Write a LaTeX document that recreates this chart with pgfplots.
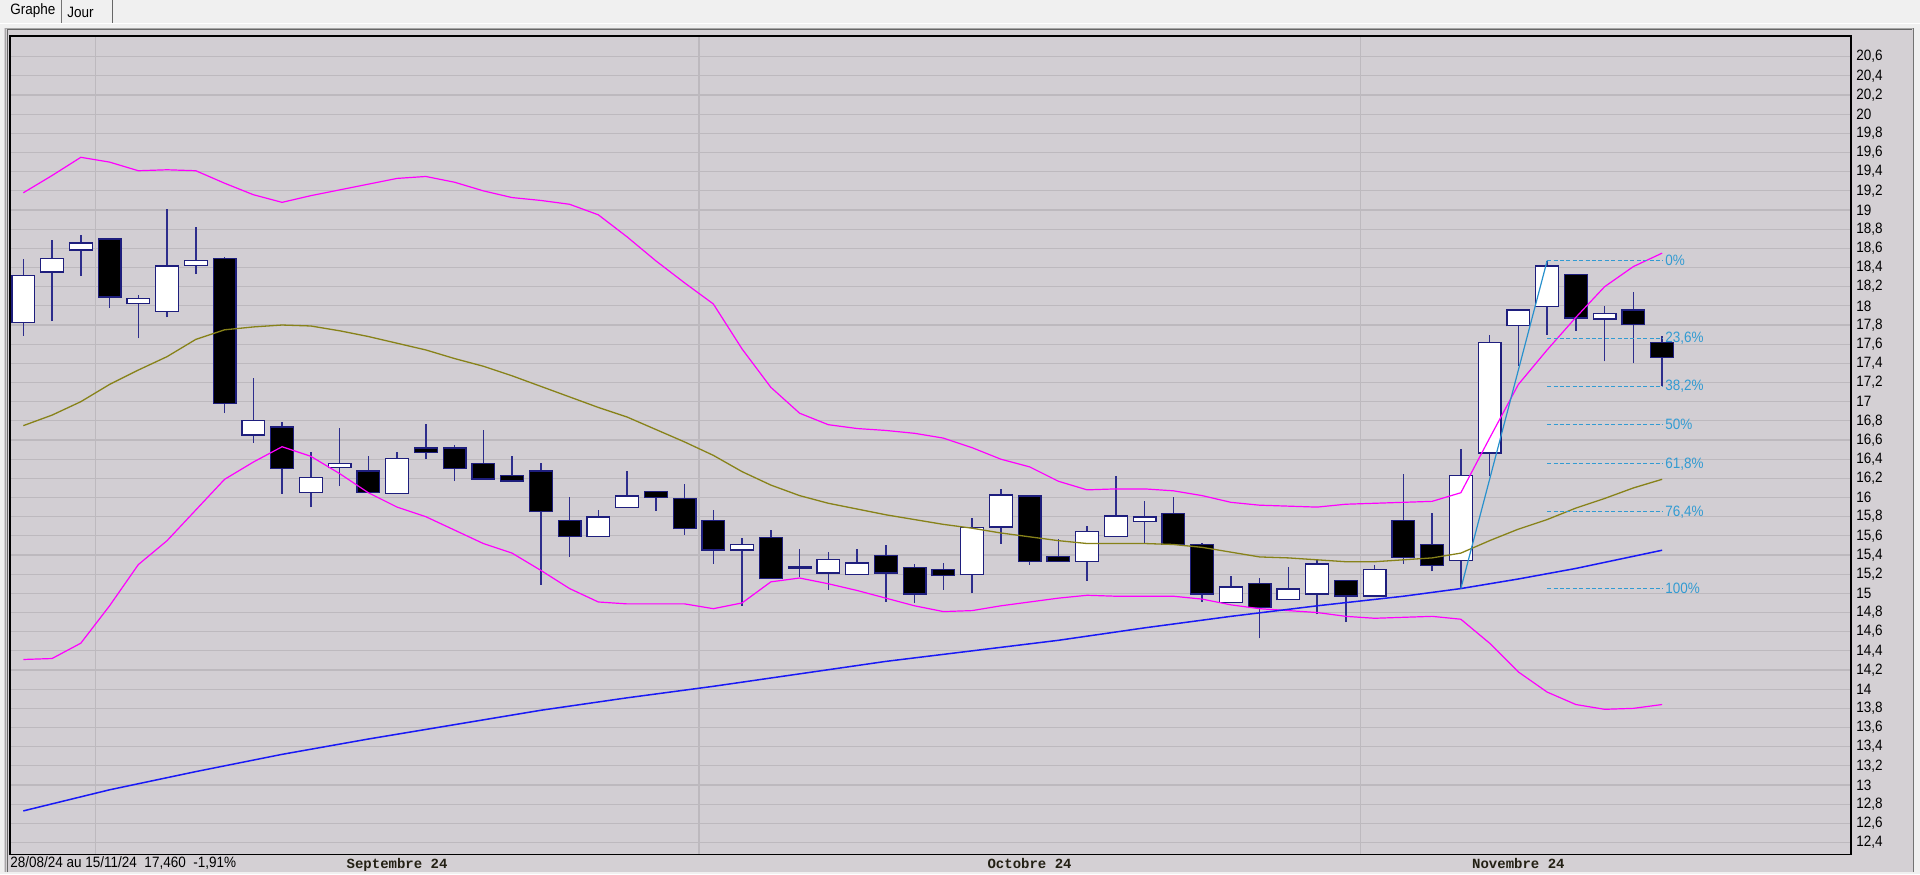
\documentclass[border=0pt]{standalone}
\usepackage{fontspec}
\setmainfont{Liberation Sans}
\newfontfamily\uifont[FakeStretch=0.9]{Liberation Sans}
\newfontfamily\monofont{Liberation Mono}
\usepackage{pgfplots}
\usepackage{pgfplotstable}
\pgfplotsset{compat=1.18}

\definecolor{tabbg}{RGB}{240,240,240}
\definecolor{panelc}{RGB}{212,208,212}
\definecolor{plotbg}{RGB}{210,206,211}
\definecolor{gridc}{RGB}{189,185,190}
\definecolor{candle}{RGB}{30,30,125}
\definecolor{wickc}{RGB}{45,45,140}
\definecolor{bandc}{RGB}{255,0,255}
\definecolor{midc}{RGB}{135,130,25}
\definecolor{mac}{RGB}{25,25,245}
\definecolor{fibc}{RGB}{50,155,210}
\definecolor{fibline}{RGB}{40,145,205}
\definecolor{monthc}{RGB}{35,32,20}

\newcommand\tickfont{\uifont\fontsize{7.5}{9}\selectfont}
\newcommand\monthfont{\monofont\bfseries\fontsize{7}{8}\selectfont}

% daily candles, 28/08/24 .. 15/11/24
\pgfplotstableread{
i  O     H     L     C
0  17.83 18.49 17.69 18.31
1  18.36 18.69 17.84 18.49
2  18.59 18.74 18.31 18.65
3  18.69 18.71 17.98 18.10
4  18.03 18.11 17.66 18.07
5  17.95 19.01 17.88 18.41
6  18.43 18.82 18.33 18.47
7  18.49 18.51 16.88 16.99
8  16.66 17.25 16.57 16.80
9  16.73 16.79 16.04 16.31
10 16.06 16.48 15.90 16.20
11 16.32 16.73 16.12 16.35
12 16.27 16.43 16.06 16.06
13 16.05 16.48 16.05 16.40
14 16.51 16.77 16.40 16.48
15 16.51 16.55 16.17 16.31
16 16.35 16.70 16.19 16.20
17 16.22 16.43 16.16 16.18
18 16.27 16.36 15.09 15.86
19 15.75 16.01 15.38 15.60
20 15.60 15.87 15.60 15.79
21 15.90 16.28 15.90 16.01
22 16.06 16.07 15.86 16.01
23 15.98 16.14 15.61 15.68
24 15.75 15.87 15.31 15.46
25 15.46 15.58 14.87 15.50
26 15.58 15.66 15.16 15.16
27 15.27 15.46 15.17 15.27
28 15.22 15.43 15.04 15.35
29 15.20 15.46 15.20 15.31
30 15.39 15.50 14.91 15.22
31 15.26 15.31 14.90 15.00
32 15.24 15.32 15.04 15.19
33 15.20 15.79 15.00 15.68
34 15.70 16.09 15.52 16.02
35 16.01 16.02 15.30 15.34
36 15.38 15.57 15.33 15.34
37 15.34 15.70 15.13 15.64
38 15.60 16.22 15.60 15.80
39 15.76 15.96 15.53 15.79
40 15.83 16.01 15.52 15.52
41 15.50 15.53 14.91 15.00
42 14.91 15.18 14.91 15.06
43 15.10 15.16 14.53 14.86
44 14.94 15.28 14.94 15.04
45 15.00 15.36 14.78 15.30
46 15.13 15.14 14.70 14.98
47 14.98 15.30 14.98 15.24
48 15.75 16.25 15.31 15.38
49 15.50 15.84 15.23 15.30
50 15.35 16.51 15.05 16.22
51 16.47 17.70 16.22 17.61
52 17.80 17.97 17.37 17.95
53 18.00 18.47 17.70 18.41
54 18.32 18.33 17.74 17.88
55 17.87 18.00 17.42 17.91
56 17.95 18.14 17.40 17.81
57 17.61 17.69 17.16 17.47
}\candles

\begin{document}
\begin{tikzpicture}[x=0.5pt,y=0.5pt]
\useasboundingbox (0,0) rectangle (1920,874);
\fill[tabbg] (0,0) rectangle (1920,874);
% panel
\fill[panelc] (4,2) rectangle (1914,846);
\draw[black!35, line width=0.6pt] (5.5,2) -- (5.5,845.5) -- (1913.5,845.5);
\draw[black!60, line width=0.5pt] (7,2) -- (7,844) -- (1912,844);
\draw[black!55, line width=0.7pt] (1913.5,2) -- (1913.5,846);
\draw[white, line width=0.8pt] (0,850.5) -- (1920,850.5);
% tabs
\draw[black!55, line width=0.6pt] (61.5,851) -- (61.5,874);
\draw[black!60, line width=0.6pt] (112.5,851) -- (112.5,874);
\node[anchor=west, inner sep=0pt, font=\tickfont] at (10,863) {Graphe};
\node[anchor=west, inner sep=0pt, font=\tickfont] at (67,862) {Jour};

\begin{axis}[
  at={(5pt,9.85pt)}, anchor=south west,
  width=920.35pt, height=409.15pt, scale only axis,
  xmin=-0.463, xmax=63.56, ymin=12.277, ymax=20.816,
  axis background/.style={fill=plotbg},
  axis line style={draw=black, line width=0.8pt},
  xtick={2.5,23.5,46.5}, xticklabels={,,},
  extra x ticks={13,35,52},
  extra x tick labels={Septembre 24,Octobre 24,Novembre 24},
  extra x tick style={grid=none},
  xmajorgrids, ymajorgrids,
  major grid style={draw=gridc, line width=0.6pt},
  major tick length=0pt,
  ytick={12.4,12.6,12.8,13,13.2,13.4,13.6,13.8,14,14.2,14.4,14.6,14.8,15,15.2,15.4,15.6,15.8,16,16.2,16.4,16.6,16.8,17,17.2,17.4,17.6,17.8,18,18.2,18.4,18.6,18.8,19,19.2,19.4,19.6,19.8,20,20.2,20.4,20.6},
  yticklabel pos=right,
  yticklabel style={anchor=west, inner sep=0pt, xshift=2.6pt, font=\tickfont, text=black},
  xticklabel style={anchor=north, inner sep=0pt, yshift=-1.6pt, font=\monthfont, text=monthc},
  /pgf/number format/use comma,
  /pgf/number format/fixed,
  /pgf/number format/precision=1,
  /pgf/number format/assume math mode=true,
]
% wicks
\addplot[draw=none, no markers, forget plot,
  error bars/.cd, y dir=plus, y explicit, error mark=none,
  error bar style={draw=wickc, line width=0.75pt}]
  table[x=i, y=L, y error expr=\thisrow{H}-\thisrow{L}] {\candles};
% body outline
\addplot[draw=none, no markers, forget plot,
  error bars/.cd, y dir=plus, y explicit, error mark=none,
  error bar style={draw=candle, line width=12pt}]
  table[x=i, y expr={min(\thisrow{O},\thisrow{C})-0.013},
        y error expr={abs(\thisrow{C}-\thisrow{O})+0.026}] {\candles};
% rising bodies
\addplot[draw=none, no markers, forget plot,
  error bars/.cd, y dir=plus, y explicit, error mark=none,
  error bar style={draw=white, line width=10.8pt}]
  table[x=i, y expr={\thisrow{C}>\thisrow{O} ? \thisrow{O} : nan},
        y error expr={\thisrow{C}-\thisrow{O}}] {\candles};
% falling bodies
\addplot[draw=none, no markers, forget plot,
  error bars/.cd, y dir=plus, y explicit, error mark=none,
  error bar style={draw=black, line width=10.8pt}]
  table[x=i, y expr={\thisrow{C}<\thisrow{O} ? \thisrow{C} : nan},
        y error expr={\thisrow{O}-\thisrow{C}}] {\candles};

% bollinger upper
\addplot[bandc, line width=0.6pt, mark=none] coordinates {
(0,19.18)(1,19.36)(2,19.55)(3,19.50)(4,19.41)(5,19.42)(6,19.41)(7,19.28)(8,19.16)(9,19.08)
(10,19.15)(11,19.21)(12,19.27)(13,19.33)(14,19.35)(15,19.29)(16,19.20)(17,19.13)(18,19.10)(19,19.06)
(20,18.95)(21,18.72)(22,18.47)(23,18.24)(24,18.02)(25,17.55)(26,17.15)(27,16.88)(28,16.76)(29,16.72)
(30,16.70)(31,16.67)(32,16.62)(33,16.52)(34,16.40)(35,16.32)(36,16.17)(37,16.08)(38,16.09)(39,16.09)
(40,16.07)(41,16.02)(42,15.95)(43,15.92)(44,15.91)(45,15.90)(46,15.93)(47,15.94)(48,15.95)(49,15.96)
(50,16.05)(51,16.62)(52,17.18)(53,17.54)(54,17.88)(55,18.20)(56,18.41)(57,18.55)};
% bollinger lower
\addplot[bandc, line width=0.6pt, mark=none] coordinates {
(0,14.31)(1,14.32)(2,14.48)(3,14.87)(4,15.30)(5,15.55)(6,15.87)(7,16.19)(8,16.37)(9,16.53)
(10,16.43)(11,16.25)(12,16.05)(13,15.90)(14,15.80)(15,15.66)(16,15.52)(17,15.42)(18,15.24)(19,15.05)
(20,14.91)(21,14.89)(22,14.89)(23,14.89)(24,14.84)(25,14.90)(26,15.12)(27,15.16)(28,15.10)(29,15.03)
(30,14.95)(31,14.87)(32,14.81)(33,14.82)(34,14.87)(35,14.91)(36,14.95)(37,14.98)(38,14.97)(39,14.97)
(40,14.97)(41,14.94)(42,14.88)(43,14.84)(44,14.82)(45,14.80)(46,14.76)(47,14.74)(48,14.75)(49,14.76)
(50,14.73)(51,14.48)(52,14.18)(53,13.97)(54,13.84)(55,13.79)(56,13.80)(57,13.84)};
% bollinger middle
\addplot[midc, line width=0.65pt, mark=none] coordinates {
(0,16.75)(1,16.86)(2,17.00)(3,17.18)(4,17.33)(5,17.47)(6,17.65)(7,17.75)(8,17.78)(9,17.80)
(10,17.79)(11,17.74)(12,17.68)(13,17.61)(14,17.54)(15,17.45)(16,17.37)(17,17.27)(18,17.16)(19,17.05)
(20,16.94)(21,16.84)(22,16.71)(23,16.58)(24,16.44)(25,16.27)(26,16.13)(27,16.02)(28,15.94)(29,15.88)
(30,15.82)(31,15.77)(32,15.72)(33,15.68)(34,15.63)(35,15.59)(36,15.55)(37,15.52)(38,15.52)(39,15.52)
(40,15.51)(41,15.48)(42,15.43)(43,15.38)(44,15.37)(45,15.35)(46,15.33)(47,15.33)(48,15.35)(49,15.37)
(50,15.42)(51,15.55)(52,15.67)(53,15.77)(54,15.89)(55,15.99)(56,16.10)(57,16.19)};
% long moving average
\addplot[mac, line width=0.75pt, mark=none] coordinates {
(0,12.73)(3,12.95)(6,13.14)(9,13.32)(12,13.48)(15,13.63)(18,13.78)(21,13.91)(24,14.03)(27,14.16)
(30,14.29)(33,14.40)(36,14.51)(39,14.64)(42,14.76)(45,14.87)(48,14.97)(50,15.05)(52,15.15)(54,15.26)(57,15.45)};

% fibonacci retracement
\addplot[fibline, line width=0.6pt, mark=none] coordinates {(50,15.05) (53,18.47)};
\pgfplotsset{fiblvl/.style={fibc, line width=0.5pt, mark=none, dash pattern=on 2pt off 1.2pt}}
\addplot[fiblvl] coordinates {(53,18.47) (57.04,18.47)} node[pos=1, anchor=west, inner sep=0.8pt, font=\tickfont, text=fibc] {0\%};
\addplot[fiblvl] coordinates {(53,17.66) (57.04,17.66)} node[pos=1, anchor=west, inner sep=0.8pt, font=\tickfont, text=fibc] {23,6\%};
\addplot[fiblvl] coordinates {(53,17.16) (57.04,17.16)} node[pos=1, anchor=west, inner sep=0.8pt, font=\tickfont, text=fibc] {38,2\%};
\addplot[fiblvl] coordinates {(53,16.76) (57.04,16.76)} node[pos=1, anchor=west, inner sep=0.8pt, font=\tickfont, text=fibc] {50\%};
\addplot[fiblvl] coordinates {(53,16.35) (57.04,16.35)} node[pos=1, anchor=west, inner sep=0.8pt, font=\tickfont, text=fibc] {61,8\%};
\addplot[fiblvl] coordinates {(53,15.85) (57.04,15.85)} node[pos=1, anchor=west, inner sep=0.8pt, font=\tickfont, text=fibc] {76,4\%};
\addplot[fiblvl] coordinates {(53,15.05) (57.04,15.05)} node[pos=1, anchor=west, inner sep=0.8pt, font=\tickfont, text=fibc] {100\%};
\end{axis}

\node[anchor=west, inner sep=0pt, font=\tickfont] at (10,11) {28/08/24 au 15/11/24 \ 17,460 \ -1,91\%};
\end{tikzpicture}
\end{document}
